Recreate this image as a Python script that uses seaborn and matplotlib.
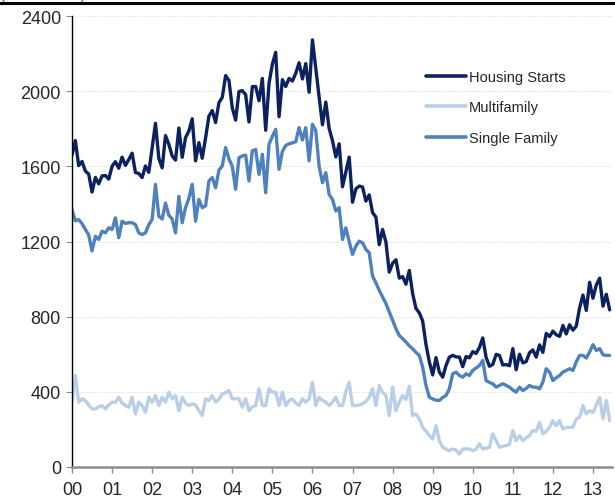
import numpy as np
import pandas as pd
import seaborn as sns
import matplotlib.pyplot as plt
from matplotlib.lines import Line2D

# monthly, Jan 2000 - Jun 2013 (thousands, SAAR)
housing_starts = [
    1660, 1737, 1604, 1626, 1575, 1559, 1463, 1541, 1507, 1549, 1551, 1532,
    1600, 1625, 1590, 1649, 1605, 1636, 1670, 1567, 1562, 1540, 1602, 1568,
    1698, 1829, 1642, 1592, 1764, 1717, 1655, 1633, 1804, 1648, 1753, 1788,
    1853, 1629, 1726, 1643, 1751, 1867, 1897, 1833, 1939, 1967, 2083, 2057,
    1911, 1846, 1998, 2003, 1981, 1836, 2024, 2025, 1949, 2068, 1792, 2042,
    2144, 2207, 1864, 2061, 2025, 2068, 2054, 2095, 2151, 2065, 2147, 1994,
    2273, 2119, 1969, 1821, 1942, 1802, 1737, 1650, 1720, 1491, 1570, 1649,
    1409, 1480, 1495, 1490, 1415, 1448, 1354, 1330, 1183, 1264, 1197, 1037,
    1084, 1103, 1005, 1013, 973, 1046, 923, 844, 820, 777, 652, 560,
    490, 582, 505, 478, 540, 585, 594, 586, 585, 534, 588, 581,
    614, 604, 636, 687, 583, 536, 546, 599, 594, 543, 545, 539,
    630, 517, 600, 554, 561, 608, 623, 585, 650, 610, 711, 694,
    723, 704, 695, 753, 708, 757, 728, 750, 847, 915, 833, 983,
    898, 969, 1005, 856, 919, 836,
]

multifamily = [
    345, 487, 345, 363, 354, 330, 309, 309, 320, 327, 309, 330,
    345, 345, 371, 340, 327, 318, 371, 282, 345, 327, 291, 371,
    345, 380, 327, 371, 345, 398, 363, 380, 300, 371, 340, 327,
    336, 330, 300, 274, 363, 354, 380, 345, 360, 389, 395, 407,
    363, 363, 363, 318, 363, 300, 320, 327, 416, 327, 327, 416,
    398, 398, 327, 398, 327, 354, 363, 340, 327, 363, 345, 363,
    451, 327, 371, 354, 345, 327, 345, 371, 327, 327, 400, 451,
    327, 327, 330, 336, 350, 371, 416, 327, 434, 398, 380, 274,
    425, 300, 345, 380, 360, 430, 274, 282, 256, 211, 190, 167,
    149, 220, 140, 105, 95, 87, 96, 90, 69, 96, 96, 96,
    87, 95, 123, 96, 100, 105, 176, 140, 105, 110, 114, 120,
    194, 140, 167, 140, 155, 167, 194, 190, 238, 176, 190, 211,
    247, 220, 247, 202, 211, 211, 211, 256, 265, 327, 283, 300,
    290, 330, 370, 256, 354, 247,
]

single_family = [
    1370, 1310, 1317, 1295, 1264, 1235, 1150, 1228, 1211, 1255, 1246, 1273,
    1264, 1326, 1220, 1308, 1296, 1300, 1300, 1290, 1246, 1237, 1246, 1290,
    1317, 1504, 1334, 1320, 1405, 1340, 1320, 1246, 1440, 1300, 1380, 1430,
    1504, 1308, 1424, 1380, 1390, 1522, 1540, 1486, 1580, 1602, 1700, 1640,
    1600, 1478, 1646, 1655, 1660, 1522, 1682, 1690, 1557, 1664, 1460, 1717,
    1760, 1797, 1584, 1680, 1711, 1720, 1725, 1731, 1806, 1740, 1806, 1629,
    1824, 1790, 1600, 1513, 1566, 1450, 1424, 1362, 1380, 1211, 1273, 1200,
    1131, 1175, 1202, 1193, 1158, 1140, 1016, 980, 940, 905, 870, 825,
    780, 736, 700, 683, 665, 645, 629, 610, 594, 532, 434, 371,
    362, 356, 354, 370, 380, 416, 496, 505, 487, 478, 496, 487,
    514, 527, 540, 567, 460, 450, 443, 425, 434, 443, 434, 425,
    410, 398, 425, 407, 418, 434, 425, 425, 416, 452, 523, 505,
    460, 475, 487, 505, 514, 523, 514, 560, 594, 594, 580, 612,
    651, 620, 630, 597, 594, 594,
]

series_names = ["Housing Starts", "Multifamily", "Single Family"]
colors = ["#0b2160", "#b9cfe7", "#4f81bd"]
year_labels = ["00", "01", "02", "03", "04", "05", "06",
               "07", "08", "09", "10", "11", "12", "13"]

month = np.arange(len(housing_starts))
df = pd.DataFrame({
    "month": np.tile(month, 3),
    "value": housing_starts + multifamily + single_family,
    "series": np.repeat(series_names, len(month)),
})

sns.set_style("white")
plt.rcParams["font.family"] = ["Liberation Sans", "DejaVu Sans"]

fig = plt.figure(figsize=(6.15, 5.02), dpi=100)
ax = fig.add_axes([72 / 615, 1 - 468 / 502, 540 / 615, 451 / 502])

sns.lineplot(data=df, x="month", y="value", hue="series",
             hue_order=series_names, palette=colors, linewidth=2.4,
             legend=False, ax=ax)

ax.set_xlim(0, 161.7)
ax.set_ylim(0, 2400)
ax.set_yticks(range(0, 2401, 400))
ax.set_xticks(range(0, 12 * len(year_labels), 12))
ax.set_xticklabels(year_labels)
ax.set_xlabel("")
ax.set_ylabel("")

ax.grid(axis="y", color="#e3e3e3", linestyle=(0, (1, 1)), linewidth=0.8)
ax.set_axisbelow(True)

for side in ["top", "right"]:
    ax.spines[side].set_visible(False)
ax.spines["left"].set_color("black")
ax.spines["left"].set_linewidth(1.0)
ax.spines["bottom"].set_color("#8c8c8c")
ax.spines["bottom"].set_linewidth(1.8)

ax.tick_params(axis="y", direction="out", length=4, width=0.8,
               color="#8c8c8c", labelsize=13, pad=4, left=True)
ax.tick_params(axis="x", direction="out", length=4, width=1.0,
               color="#8c8c8c", labelsize=13, pad=6, bottom=True)

handles = [Line2D([0], [0], color=c, linewidth=2.6) for c in colors]
ax.legend(handles, series_names, loc="upper left",
          bbox_to_anchor=(0.632, 0.91), frameon=False, fontsize=10.5,
          handlelength=2.7, handletextpad=0.2, labelspacing=1.15)

# header rule and clipped subtitle from the source deck
fig.add_artist(Line2D([0, 1], [1 - 4 / 502, 1 - 4 / 502],
                      color="black", linewidth=2.2))
fig.text(0.0, 1 + 1 / 502, "(Thousands)", color="#2e5fa8", fontsize=11,
         ha="left", va="baseline")

fig.savefig("out.png", dpi=100)
